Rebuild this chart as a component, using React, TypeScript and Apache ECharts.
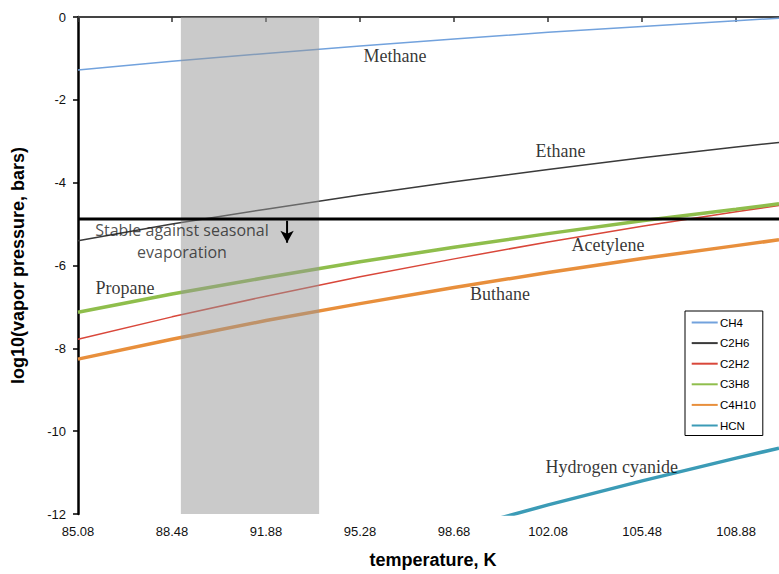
import React, { useEffect, useRef } from "react";
import * as echarts from "echarts";

// Temperatures (K) at which the curves are sampled
const temperatures = [85.08, 88.48, 91.88, 95.28, 98.68, 102.08, 105.48, 108.88, 110.43];
const xTickLabels = ["85.08", "88.48", "91.88", "95.28", "98.68", "102.08", "105.48", "108.88"];
const yTickLabels = ["-12", "-10", "-8", "-6", "-4", "-2", "0"];
const yMin = -12;
const yMax = 0;

// log10(vapor pressure, bars)
const methane = [-1.28, -1.07, -0.88, -0.7, -0.53, -0.37, -0.23, -0.09, -0.03];
const ethane = [-5.4, -5.0, -4.64, -4.3, -3.98, -3.68, -3.4, -3.14, -3.03];
const acetylene = [-7.78, -7.24, -6.74, -6.27, -5.84, -5.43, -5.05, -4.7, -4.55];
const propane = [-7.13, -6.69, -6.29, -5.91, -5.56, -5.23, -4.92, -4.64, -4.51];
const butane = [-8.26, -7.78, -7.33, -6.92, -6.53, -6.17, -5.83, -5.52, -5.38];
const hcn = [null, null, null, null, -12.4, -11.78, -11.2, -10.65, -10.41];

const seriesNames = ["CH4", "C2H6", "C2H2", "C3H8", "C4H10", "HCN"];
const seriesValues = [methane, ethane, acetylene, propane, butane, hcn];
const seriesColors = ["#72a2dd", "#3a3a3a", "#d9473a", "#8fbe4c", "#e88f3c", "#3b9bb6"];
const seriesWidths = [1.5, 1.5, 1.5, 3.5, 3.5, 3.5];

// Shaded temperature band and stability threshold
const bandRange = [88.8, 93.8];
const stableLevel = -4.88;
const arrowX = 92.64;
const arrowRange = [-4.92, -5.45];

// In-plot annotations
const annotationTexts = ["Methane", "Ethane", "Acetylene", "Propane", "Buthane", "Hydrogen cyanide"];
const annotationX = [96.54, 102.53, 104.25, 86.78, 100.34, 104.38];
const annotationY = [-0.95, -3.24, -5.51, -6.55, -6.7, -10.86];
const noteText = "Stable against seasonal\nevaporation";
const noteX = 88.84;
const noteY = -5.41;

export default function App() {
  const ref = useRef<HTMLDivElement>(null);
  useEffect(() => {
    if (!ref.current) return;
    const chart = echarts.init(ref.current, undefined, { renderer: "svg" });
    const lineSeries = seriesNames.map((name, i) => ({
      name,
      type: "line",
      z: 2,
      symbol: "none",
      showSymbol: false,
      clip: true,
      data: temperatures.map((t, j) => [t, seriesValues[i][j]]),
      lineStyle: { color: seriesColors[i], width: seriesWidths[i] },
      itemStyle: { color: seriesColors[i] },
      connectNulls: false,
    }));
    const xMin = temperatures[0];
    const xMax = temperatures[temperatures.length - 1];
    const option: any = {
      animation: false,
      grid: { left: 78, right: 0, top: 17, bottom: 54 },
      legend: {
        data: seriesNames,
        orient: "vertical",
        left: 685,
        top: 311,
        icon: "rect",
        backgroundColor: "#fff",
        borderColor: "#000",
        borderWidth: 1,
        borderRadius: 0,
        padding: [4.5, 7, 3, 6.7],
        itemWidth: 26,
        itemHeight: 2,
        itemGap: 6.6,
        textStyle: {
          fontFamily: "Liberation Sans",
          fontSize: 11.5,
          lineHeight: 14,
          color: "#000",
          padding: [0, 0, 0, -2.7],
        },
        z: 30,
      },
      xAxis: [
        {
          type: "value",
          min: xMin,
          max: xMax,
          interval: 3.4,
          name: "temperature, K",
          nameLocation: "middle",
          nameGap: 37,
          nameTextStyle: {
            fontFamily: "Liberation Sans",
            fontWeight: "bold",
            fontSize: 18,
            color: "#000",
            padding: [0, 0, 0, 9],
          },
          axisLine: { lineStyle: { color: "#555", width: 2 } },
          axisTick: { show: true, length: 5, lineStyle: { color: "#333", width: 1.5 } },
          splitLine: { show: false },
          axisLabel: {
            margin: 11,
            fontFamily: "Liberation Sans",
            fontSize: 13,
            color: "#111",
            showMaxLabel: false,
            formatter: (v: number) => {
              const s = v.toFixed(2);
              return xTickLabels.includes(s) ? s : "";
            },
          },
        },
        {
          type: "value",
          position: "top",
          min: xMin,
          max: xMax,
          axisLine: { show: true, lineStyle: { color: "#444", width: 2 } },
          axisTick: { show: false },
          axisLabel: { show: false },
          splitLine: { show: false },
        },
      ],
      yAxis: {
        type: "value",
        min: yMin,
        max: yMax,
        interval: 2,
        name: "log10(vapor pressure, bars)",
        nameLocation: "middle",
        nameGap: 51,
        nameTextStyle: { fontFamily: "Liberation Sans", fontWeight: "bold", fontSize: 18, color: "#000" },
        axisLine: { show: true, lineStyle: { color: "#000", width: 2.5 } },
        axisTick: { show: true, length: 5, lineStyle: { color: "#000", width: 1.5 } },
        splitLine: { show: false },
        axisLabel: {
          margin: 12,
          fontFamily: "Liberation Sans",
          fontSize: 13,
          color: "#111",
          formatter: (v: number) => {
            const s = String(Math.round(v));
            return yTickLabels.includes(s) ? s : "";
          },
        },
      },
      series: [
        ...lineSeries,
        {
          name: "band",
          type: "custom",
          z: 10,
          silent: true,
          data: [[bandRange[0], bandRange[1]]],
          encode: { x: [0, 1] },
          renderItem: (params: any, api: any) => {
            const p0 = api.coord([api.value(0), yMax]);
            const p1 = api.coord([api.value(1), yMin]);
            return {
              type: "rect",
              shape: { x: p0[0], y: p0[1], width: p1[0] - p0[0], height: p1[1] - p0[1] },
              style: { fill: "rgba(150,150,150,0.5)" },
            };
          },
        },
        {
          name: "stable",
          type: "line",
          z: 15,
          silent: true,
          symbol: "none",
          data: [
            [xMin, stableLevel],
            [xMax, stableLevel],
          ],
          lineStyle: { color: "#000", width: 3 },
        },
        {
          name: "arrow",
          type: "line",
          z: 16,
          silent: true,
          symbol: "none",
          showSymbol: true,
          lineStyle: { color: "#000", width: 2 },
          itemStyle: { color: "#000" },
          data: [
            { value: [arrowX, arrowRange[0]], symbol: "none" },
            { value: [arrowX, arrowRange[1]], symbol: "arrow", symbolRotate: 180, symbolSize: [10, 12] },
          ],
        },
        {
          name: "labels",
          type: "scatter",
          z: 20,
          symbolSize: 1,
          itemStyle: { color: "rgba(0,0,0,0)" },
          silent: true,
          label: {
            show: true,
            position: "inside",
            formatter: "{b}",
            fontFamily: "Liberation Serif",
            fontSize: 18,
            color: "#000",
          },
          data: annotationTexts.map((name, i) => ({ name, value: [annotationX[i], annotationY[i]] })),
        },
        {
          name: "note",
          type: "scatter",
          z: 20,
          symbolSize: 1,
          itemStyle: { color: "rgba(0,0,0,0)" },
          silent: true,
          label: {
            show: true,
            position: "inside",
            formatter: "{b}",
            fontFamily: "Open Sans",
            fontSize: 16,
            lineHeight: 22,
            align: "center",
            color: "#222",
          },
          data: [{ name: noteText, value: [noteX, noteY] }],
        },
      ],
    };
    chart.setOption(option);
    return () => chart.dispose();
  }, []);
  return (
    <div
      ref={ref}
      style={{ position: "fixed", left: 0, top: 0, width: 779, height: 574, background: "#fff" }}
    />
  );
}
